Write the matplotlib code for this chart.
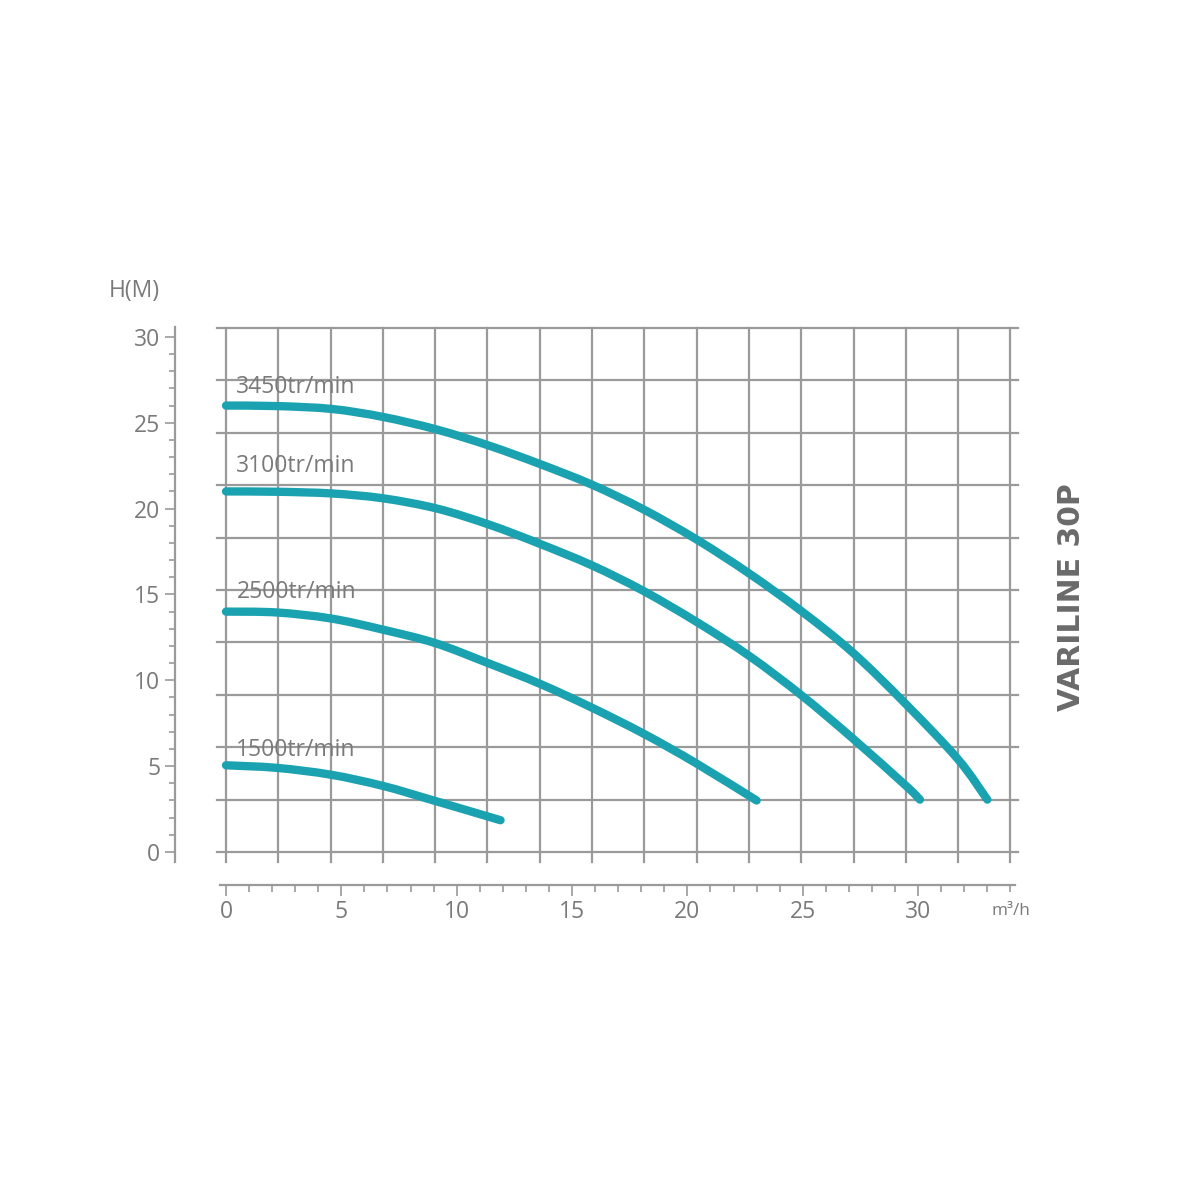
import numpy as np
import matplotlib
matplotlib.use("Agg")
import matplotlib.pyplot as plt
from matplotlib.path import Path
from matplotlib.patches import PathPatch
from matplotlib.ticker import MultipleLocator

# pump curves (Q in m3/h, H in m)
q_3450 = [0, 2.25, 4.6, 6.8, 9.15, 11.44, 13.6, 15.85, 18.1, 20.4, 22.7, 24.97, 27.18, 29.48, 31.73, 33.0]
h_3450 = [26.0, 25.97, 25.8, 25.34, 24.6, 23.65, 22.6, 21.4, 19.95, 18.2, 16.2, 14.0, 11.6, 8.6, 5.4, 3.05]

q_3100 = [0, 2.25, 4.6, 6.8, 9.15, 11.44, 13.6, 15.85, 18.1, 20.4, 22.7, 24.97, 27.18, 29.48, 30.08]
h_3100 = [21.0, 20.98, 20.88, 20.6, 20.0, 19.05, 17.95, 16.7, 15.2, 13.4, 11.4, 9.1, 6.6, 3.85, 3.05]

q_2500 = [0, 2.2, 4.55, 6.8, 9.06, 11.36, 13.6, 15.87, 18.16, 20.4, 23.0]
h_2500 = [14.0, 13.95, 13.6, 12.95, 12.17, 11.0, 9.8, 8.4, 6.85, 5.15, 3.0]

q_1500 = [0, 2.2, 4.55, 6.8, 9.0, 11.9]
h_1500 = [5.05, 4.9, 4.5, 3.85, 3.0, 1.85]

labels = ["3450tr/min", "3100tr/min", "2500tr/min", "1500tr/min"]
label_y = [27.1, 22.5, 15.15, 5.95]

teal = "#1aa2b0"
grid_c = "#9a9a9a"
txt_c = "#7a7a7a"
plt.rcParams["font.family"] = ["Open Sans", "DejaVu Sans"]


def smooth_path(xs, ys):
    # catmull-rom through the read points, drawn as bezier segments
    p = np.column_stack([xs, ys])
    pp = np.vstack([p[0], p, p[-1]])
    verts = [p[0]]
    codes = [Path.MOVETO]
    for i in range(1, len(pp) - 2):
        c1 = pp[i] + (pp[i + 1] - pp[i - 1]) / 6
        c2 = pp[i + 1] - (pp[i + 2] - pp[i]) / 6
        verts += [c1, c2, pp[i + 1]]
        codes += [Path.CURVE4] * 3
    return Path(verts, codes)


W = H = 1200.0
fig = plt.figure(figsize=(12, 12), dpi=100)

# main plotting area (pixel geometry of the grid)
xpx = 23.07   # px per m3/h
ypx = 17.17   # px per m
x0, y0 = 226, 852
xmax, ymax = 34.0, (852 - 328) / ypx
ax = fig.add_axes([x0 / W, (H - y0) / H, xmax * xpx / W, ymax * ypx / H])
ax.set_xlim(0, xmax)
ax.set_ylim(0, ymax)
ax.axis("off")

# square grid, not tied to the axis ticks, lines overshoot a little
for gx in np.linspace(0, xmax, 16):
    ax.plot([gx, gx], [-10 / ypx, ymax], color=grid_c, lw=1.6, clip_on=False, zorder=1)
for gy in np.linspace(0, ymax, 11):
    ax.plot([-9 / xpx, xmax + 8 / xpx], [gy, gy], color=grid_c, lw=1.6, clip_on=False, zorder=1)

series = [(q_3450, h_3450), (q_3100, h_3100), (q_2500, h_2500), (q_1500, h_1500)]
for (q, h), lab, ly in zip(series, labels, label_y):
    patch = PathPatch(smooth_path(q, h), facecolor="none", edgecolor=teal, lw=6,
                      capstyle="round", joinstyle="round", clip_on=False, zorder=3)
    ax.add_patch(patch)
    ax.text(0.45, ly, lab, color=txt_c, fontsize=16.5, va="center", ha="left", zorder=2)

# left axis
ay = fig.add_axes([175 / W, (H - 862) / H, 0.001, 535 / H])
ay.set_ylim((852 - 862) / ypx, (852 - 327) / ypx)
for s in ["top", "right", "bottom"]:
    ay.spines[s].set_visible(False)
ay.spines["left"].set_color(grid_c)
ay.spines["left"].set_linewidth(1.6)
ay.set_xticks([])
ay.yaxis.set_major_locator(MultipleLocator(5))
ay.yaxis.set_minor_locator(MultipleLocator(1))
ay.tick_params(axis="y", which="major", length=7.5, width=1.2, color=grid_c,
               labelcolor=txt_c, labelsize=16.5, pad=3)
ay.tick_params(axis="y", which="minor", length=4.5, width=1.2, color=grid_c)
ay.patch.set_visible(False)

# bottom axis
axb = fig.add_axes([220 / W, (H - 885) / H, 795 / W, 0.001])
axb.set_xlim(-6 / xpx, 789 / xpx)
for s in ["top", "right", "left"]:
    axb.spines[s].set_visible(False)
axb.spines["bottom"].set_color(grid_c)
axb.spines["bottom"].set_linewidth(1.6)
axb.set_yticks([])
axb.set_xticks([0, 5, 10, 15, 20, 25, 30])
axb.xaxis.set_minor_locator(MultipleLocator(1))
axb.tick_params(axis="x", which="major", length=8, width=1.2, color=grid_c,
                labelcolor=txt_c, labelsize=16.5, pad=3)
axb.tick_params(axis="x", which="minor", length=5, width=1.2, color=grid_c)
axb.patch.set_visible(False)

fig.text(1011 / W, 1 - 911 / H, "m³/h", color=txt_c, fontsize=12.3, ha="center", va="center")
fig.text(134 / W, 1 - 291 / H, "H(M)", color=txt_c, fontsize=16.5, ha="center", va="center")
fig.text(1072 / W, 1 - 597 / H, "VARILINE 30P", color="#6a6a6a", fontsize=21.5,
         fontweight="bold", family="DejaVu Sans",
         rotation=90, ha="center", va="center")

fig.savefig("out.png", dpi=100, facecolor="white")
